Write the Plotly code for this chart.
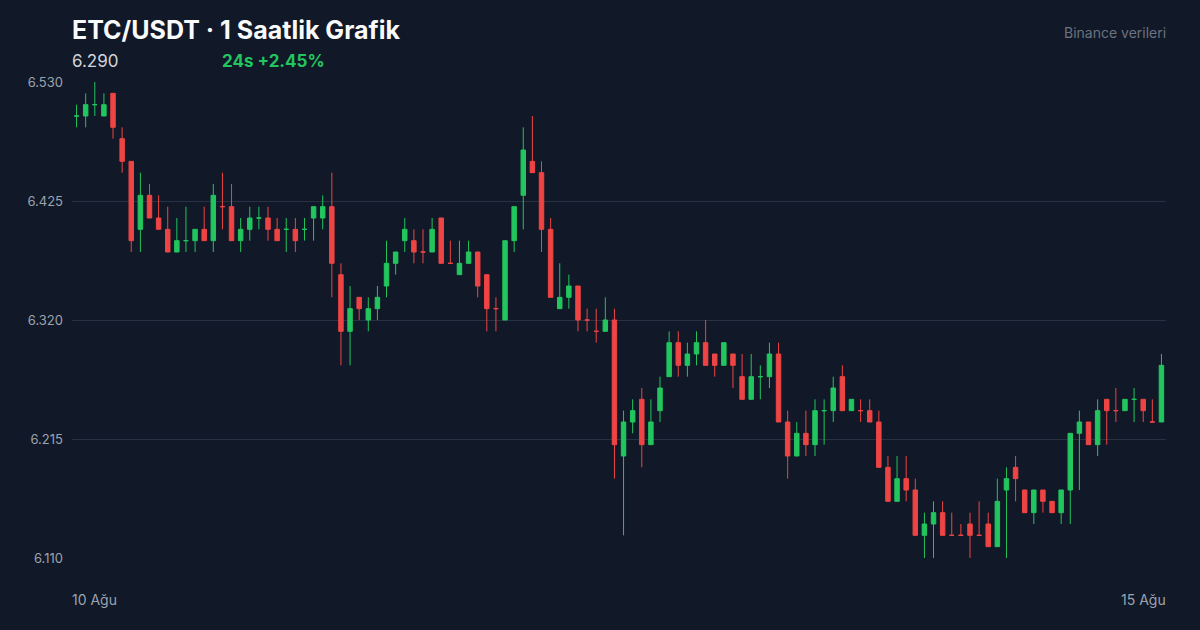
import plotly.graph_objects as go

# hourly candles, 10 Aug -> 15 Aug
opens = [6.50, 6.50, 6.51, 6.50, 6.52, 6.48, 6.46, 6.40, 6.43, 6.41,
         6.40, 6.38, 6.39, 6.39, 6.40, 6.39, 6.42, 6.42, 6.39, 6.40,
         6.41, 6.41, 6.40, 6.40, 6.40, 6.40, 6.41, 6.41, 6.42, 6.36,
         6.31, 6.34, 6.32, 6.33, 6.35, 6.37, 6.39, 6.39, 6.38, 6.38,
         6.41, 6.37, 6.36, 6.37, 6.38, 6.36, 6.33, 6.32, 6.39, 6.43,
         6.46, 6.45, 6.40, 6.33, 6.34, 6.35, 6.32, 6.31, 6.31, 6.32,
         6.20, 6.23, 6.25, 6.21, 6.24, 6.27, 6.30, 6.28, 6.29, 6.30,
         6.29, 6.28, 6.29, 6.27, 6.25, 6.27, 6.27, 6.29, 6.23, 6.20,
         6.22, 6.21, 6.24, 6.24, 6.27, 6.24, 6.24, 6.24, 6.23, 6.19,
         6.16, 6.18, 6.17, 6.13, 6.14, 6.15, 6.13, 6.13, 6.14, 6.13,
         6.14, 6.12, 6.17, 6.19, 6.17, 6.15, 6.17, 6.16, 6.15, 6.17,
         6.22, 6.23, 6.21, 6.25, 6.24, 6.24, 6.25, 6.25, 6.23, 6.23]
highs = [6.51, 6.52, 6.53, 6.52, 6.52, 6.49, 6.46, 6.45, 6.44, 6.43,
         6.42, 6.41, 6.42, 6.40, 6.42, 6.44, 6.45, 6.44, 6.41, 6.42,
         6.42, 6.42, 6.41, 6.41, 6.41, 6.41, 6.42, 6.43, 6.45, 6.37,
         6.35, 6.34, 6.34, 6.35, 6.39, 6.38, 6.41, 6.40, 6.40, 6.41,
         6.41, 6.39, 6.39, 6.39, 6.38, 6.36, 6.34, 6.39, 6.42, 6.49,
         6.50, 6.46, 6.41, 6.37, 6.36, 6.35, 6.33, 6.33, 6.34, 6.33,
         6.24, 6.25, 6.26, 6.25, 6.27, 6.31, 6.31, 6.30, 6.31, 6.32,
         6.29, 6.30, 6.29, 6.29, 6.29, 6.28, 6.30, 6.30, 6.24, 6.23,
         6.24, 6.25, 6.25, 6.27, 6.28, 6.25, 6.25, 6.25, 6.24, 6.20,
         6.20, 6.20, 6.18, 6.15, 6.16, 6.16, 6.15, 6.14, 6.15, 6.16,
         6.15, 6.18, 6.19, 6.20, 6.17, 6.17, 6.17, 6.16, 6.17, 6.22,
         6.24, 6.23, 6.25, 6.25, 6.26, 6.25, 6.26, 6.25, 6.25, 6.29]
lows = [6.49, 6.49, 6.50, 6.50, 6.48, 6.45, 6.38, 6.38, 6.41, 6.40,
        6.38, 6.38, 6.38, 6.38, 6.39, 6.38, 6.40, 6.39, 6.38, 6.39,
        6.40, 6.39, 6.39, 6.38, 6.38, 6.39, 6.39, 6.40, 6.34, 6.28,
        6.28, 6.32, 6.31, 6.32, 6.34, 6.36, 6.38, 6.37, 6.37, 6.38,
        6.37, 6.37, 6.36, 6.37, 6.34, 6.31, 6.31, 6.32, 6.38, 6.40,
        6.45, 6.38, 6.34, 6.33, 6.33, 6.31, 6.31, 6.30, 6.31, 6.18,
        6.13, 6.22, 6.19, 6.21, 6.23, 6.27, 6.27, 6.27, 6.28, 6.28,
        6.27, 6.28, 6.26, 6.25, 6.25, 6.25, 6.26, 6.23, 6.18, 6.20,
        6.20, 6.20, 6.21, 6.23, 6.24, 6.24, 6.23, 6.23, 6.22, 6.19,
        6.16, 6.16, 6.13, 6.11, 6.11, 6.13, 6.13, 6.13, 6.11, 6.13,
        6.13, 6.12, 6.11, 6.16, 6.17, 6.14, 6.15, 6.16, 6.14, 6.14,
        6.17, 6.21, 6.20, 6.21, 6.23, 6.24, 6.23, 6.23, 6.23, 6.23]
closes = [6.50, 6.51, 6.51, 6.51, 6.49, 6.46, 6.39, 6.43, 6.41, 6.40,
          6.38, 6.39, 6.39, 6.40, 6.39, 6.43, 6.42, 6.39, 6.40, 6.41,
          6.41, 6.40, 6.39, 6.40, 6.39, 6.40, 6.42, 6.42, 6.37, 6.31,
          6.33, 6.33, 6.33, 6.34, 6.37, 6.38, 6.40, 6.38, 6.38, 6.40,
          6.37, 6.37, 6.37, 6.38, 6.35, 6.33, 6.33, 6.39, 6.42, 6.47,
          6.45, 6.40, 6.34, 6.34, 6.35, 6.32, 6.32, 6.31, 6.32, 6.21,
          6.23, 6.24, 6.21, 6.23, 6.26, 6.30, 6.28, 6.29, 6.30, 6.28,
          6.28, 6.30, 6.28, 6.25, 6.27, 6.27, 6.29, 6.23, 6.20, 6.22,
          6.21, 6.24, 6.24, 6.26, 6.24, 6.25, 6.24, 6.23, 6.19, 6.16,
          6.18, 6.17, 6.13, 6.14, 6.15, 6.13, 6.13, 6.13, 6.13, 6.13,
          6.12, 6.16, 6.18, 6.18, 6.15, 6.17, 6.16, 6.15, 6.17, 6.22,
          6.23, 6.21, 6.24, 6.24, 6.24, 6.25, 6.25, 6.24, 6.23, 6.28]
y_ticks = [6.110, 6.215, 6.320, 6.425, 6.530]

idx = list(range(len(opens)))
bg = "#111827"
green = "#22c55e"
red = "#ef4444"
W, H = 1200, 630
L, R, T, B = 72, 34, 82, 72

fig = go.Figure(go.Candlestick(
    x=idx, open=opens, high=highs, low=lows, close=closes,
    increasing=dict(line=dict(color=green, width=1), fillcolor=green),
    decreasing=dict(line=dict(color=red, width=1), fillcolor=red),
    whiskerwidth=0, hoverinfo="skip",
))

fig.update_layout(
    width=W, height=H,
    paper_bgcolor=bg, plot_bgcolor=bg,
    margin=dict(l=L, r=R, t=T, b=B),
    showlegend=False,
    font=dict(family="Inter, Roboto, sans-serif", color="#9ca3af"),
    xaxis=dict(range=[-0.5, len(opens) - 0.5], showgrid=False, zeroline=False,
               showticklabels=False, rangeslider=dict(visible=False)),
    yaxis=dict(range=[6.11, 6.53], tickvals=y_ticks, tickformat=".3f",
               gridcolor="#283244", gridwidth=1, zeroline=False,
               tickfont=dict(size=13, color="#9ca3af"), ticklabelstandoff=8),
)

# header / footer texts, positioned in canvas pixels
texts = [
    (70, 30, "<b>ETC/USDT · 1 Saatlik Grafik</b>", 25, "#f9fafb", "left"),
    (70, 61, "6.290", 17, "#d1d5db", "left"),
    (220, 61, "<b>24s +2.45%</b>", 17, green, "left"),
    (1168, 33, "Binance verileri", 14, "#6b7280", "right"),
    (70, 599, "10 Ağu", 14, "#9ca3af", "left"),
    (1168, 599, "15 Ağu", 14, "#9ca3af", "right"),
]
for x, y, txt, size, color, anchor in texts:
    fig.add_annotation(
        x=(x - L) / (W - L - R), y=1 - (y - T) / (H - T - B),
        xref="paper", yref="paper", xanchor=anchor, yanchor="middle",
        showarrow=False, text=txt, font=dict(size=size, color=color),
    )

fig.write_html("out.html", config={"displayModeBar": False})

# drop the browser's default body margin
with open("out.html", encoding="utf-8") as f:
    html = f.read()
html = html.replace("<body>", '<body style="margin:0;background:#111827">', 1)
with open("out.html", "w", encoding="utf-8") as f:
    f.write(html)
